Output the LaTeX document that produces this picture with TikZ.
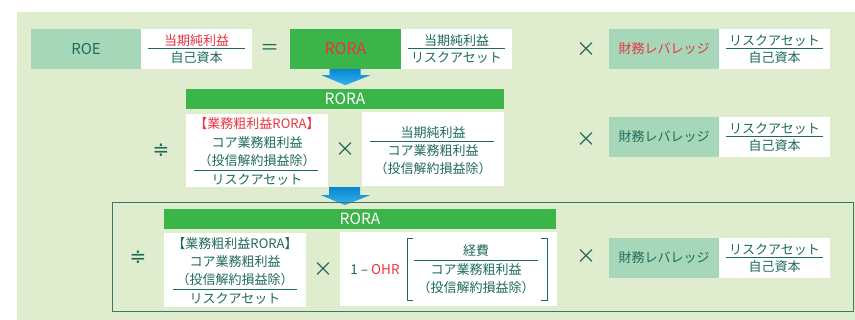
\documentclass[tikz,border=0pt]{standalone}
\usepackage{fontspec}
\setmainfont{Noto Sans CJK JP}
\newfontfamily\symfont{DejaVu Sans}
\definecolor{bgg}{HTML}{E0ECCE}
\definecolor{paleg}{HTML}{A6D7B9}
\definecolor{barg}{HTML}{3BB44A}
\definecolor{tealt}{HTML}{1F6B5B}
\definecolor{outl}{HTML}{3A7868}
\definecolor{redt}{HTML}{EA3340}
\definecolor{arrowtop}{HTML}{0A86D0}
\definecolor{arrowbot}{HTML}{34B4EE}
\tikzset{
  box/.style={rectangle, inner sep=0pt, draw=none, text=tealt},
  wbox/.style={box, fill=white},
  gbox/.style={box, fill=paleg, font=\fontsize{13}{15}\selectfont},
  bar/.style={box, fill=barg, text=white, font=\fontsize{15.5}{17}\selectfont},
  jt/.style={text=tealt, inner sep=0pt, font=\fontsize{13}{15}\selectfont},
  op/.style={text=tealt, inner sep=0pt, font=\fontsize{20}{22}\selectfont},
  fracline/.style={draw=tealt, line width=0.9pt},
  bracket/.style={draw=tealt, line width=0.9pt},
  blockarrow/.style={top color=arrowtop, bottom color=arrowbot, draw=none},
}
\begin{document}
\begin{tikzpicture}[x=1pt,y=-1pt]
\useasboundingbox (0,0) rectangle (855,320);
\fill[bgg] (17,12) rectangle (855,320);

% ---------- Row 1 ----------
\node[gbox, minimum width=110pt, minimum height=40pt, font=\fontsize{15}{17}\selectfont] (roe) at (86,49) {ROE};
\node[wbox, minimum width=111pt, minimum height=40pt] (roef) at (196.5,49) {};
\node[jt, text=redt] (roefn) at (196.5,41) {当期純利益};
\node[jt] (roefd) at (196.5,58) {自己資本};
\draw[fracline] (148,48.3) -- (245,48.3);
\node[op, font=\fontsize{19}{21}\selectfont] (eq) at (270,49) {＝};
\node[box, fill=barg, minimum width=111pt, minimum height=40pt, text=redt, font=\fontsize{16}{18}\selectfont] (rora1) at (345.5,49) {RORA};
\node[wbox, minimum width=111pt, minimum height=40pt] (roraf) at (456.5,49) {};
\node[jt] (rorafn) at (456.5,41) {当期純利益};
\node[jt] (rorafd) at (456.5,58) {リスクアセット};
\draw[fracline] (408,48.3) -- (505,48.3);
\node[op] (x1) at (586,50) {×};
\node[gbox, text=redt, minimum width=110pt, minimum height=40pt] (lev1) at (664,49) {財務レバレッジ};
\node[wbox, minimum width=111pt, minimum height=40pt] (levf1) at (774.5,49) {};
\node[jt] (levf1n) at (774.5,41) {リスクアセット};
\node[jt] (levf1d) at (774.5,58) {自己資本};
\draw[fracline] (726,48.3) -- (823,48.3);

% arrow 1
\shade[blockarrow] ([xshift=-16pt]rora1.south) -- ([xshift=15pt]rora1.south) -- ++(0,6) -- ++(10,0) -- ([yshift=-16pt]rora1.south) -- ([xshift=-24pt,yshift=-6pt]rora1.south) -- ++(8,0) -- cycle;

% ---------- Row 2 ----------
\node[bar, minimum width=318pt, minimum height=20pt] (bar2) at (345,99) {RORA};
\node[wbox, minimum width=142pt, minimum height=73pt] (l2) at (257,150.5) {};
\node[jt, text=redt] (l2a) at (257,124) {【業務粗利益RORA】};
\node[jt] (l2b) at (257,143) {コア業務粗利益};
\node[jt] (l2c) at (257,161) {（投信解約損益除）};
\draw[fracline] (194,170) -- (318,170);
\node[jt] (l2d) at (257,179.5) {リスクアセット};
\node[op] (x2a) at (345,150) {×};
\node[wbox, minimum width=142pt, minimum height=74pt] (r2) at (433,149) {};
\node[jt] (r2a) at (433,133) {当期純利益};
\draw[fracline] (370,141) -- (494,141);
\node[jt] (r2b) at (433,151) {コア業務粗利益};
\node[jt] (r2c) at (433,169) {（投信解約損益除）};
\node[op, font=\symfont\fontsize{20}{22}\selectfont] (nd2) at (161,150) {≑};
\node[op] (x2b) at (586,140) {×};
\node[gbox, minimum width=110pt, minimum height=40pt] (lev2) at (664,137) {財務レバレッジ};
\node[wbox, minimum width=111pt, minimum height=40pt] (levf2) at (774.5,137) {};
\node[jt] (levf2n) at (774.5,129) {リスクアセット};
\node[jt] (levf2d) at (774.5,146) {自己資本};
\draw[fracline] (726,136.3) -- (823,136.3);

% arrow 2
\coordinate (a2) at (bar2.center |- l2.south);
\shade[blockarrow] ([xshift=-16pt]a2) -- ([xshift=15pt]a2) -- ++(0,8) -- ++(10,0) -- ([yshift=-18pt]a2) -- ([xshift=-24pt,yshift=-8pt]a2) -- ++(8,0) -- cycle;

% ---------- Row 3 ----------
\draw[draw=outl, line width=1pt] (112,203) rectangle (853,312);
\node[bar, minimum width=392pt, minimum height=20pt] (bar3) at (360,219) {RORA};
\node[wbox, minimum width=142pt, minimum height=74pt] (l3) at (235,270) {};
\node[jt] (l3a) at (235,244) {【業務粗利益RORA】};
\node[jt] (l3b) at (235,262) {コア業務粗利益};
\node[jt] (l3c) at (235,280) {（投信解約損益除）};
\draw[fracline] (173,289) -- (297,289);
\node[jt] (l3d) at (235,298.5) {リスクアセット};
\node[op, font=\symfont\fontsize{20}{22}\selectfont] (nd3) at (138,257) {≑};
\node[op] (x3a) at (323,270) {×};
\node[wbox, minimum width=217pt, minimum height=74pt] (r3) at (448.5,269) {};
\node[inner sep=0pt, font=\fontsize{13.5}{15}\selectfont] (ohr) at (375,270) {\textcolor{tealt}{1 – }\textcolor{redt}{OHR}};
\draw[bracket] (413,238) -- (407,238) -- (407,300) -- (413,300);
\draw[bracket] (541,238) -- (547,238) -- (547,300) -- (541,300);
\node[jt] (r3a) at (476,251) {経費};
\draw[fracline] (414,260) -- (538,260);
\node[jt] (r3b) at (476,270) {コア業務粗利益};
\node[jt] (r3c) at (476,288) {（投信解約損益除）};
\node[op] (x3b) at (586,257) {×};
\node[gbox, minimum width=110pt, minimum height=40pt] (lev3) at (664,258) {財務レバレッジ};
\node[wbox, minimum width=111pt, minimum height=40pt] (levf3) at (774.5,258) {};
\node[jt] (levf3n) at (774.5,250) {リスクアセット};
\node[jt] (levf3d) at (774.5,267) {自己資本};
\draw[fracline] (726,257.3) -- (823,257.3);
\end{tikzpicture}
\end{document}
